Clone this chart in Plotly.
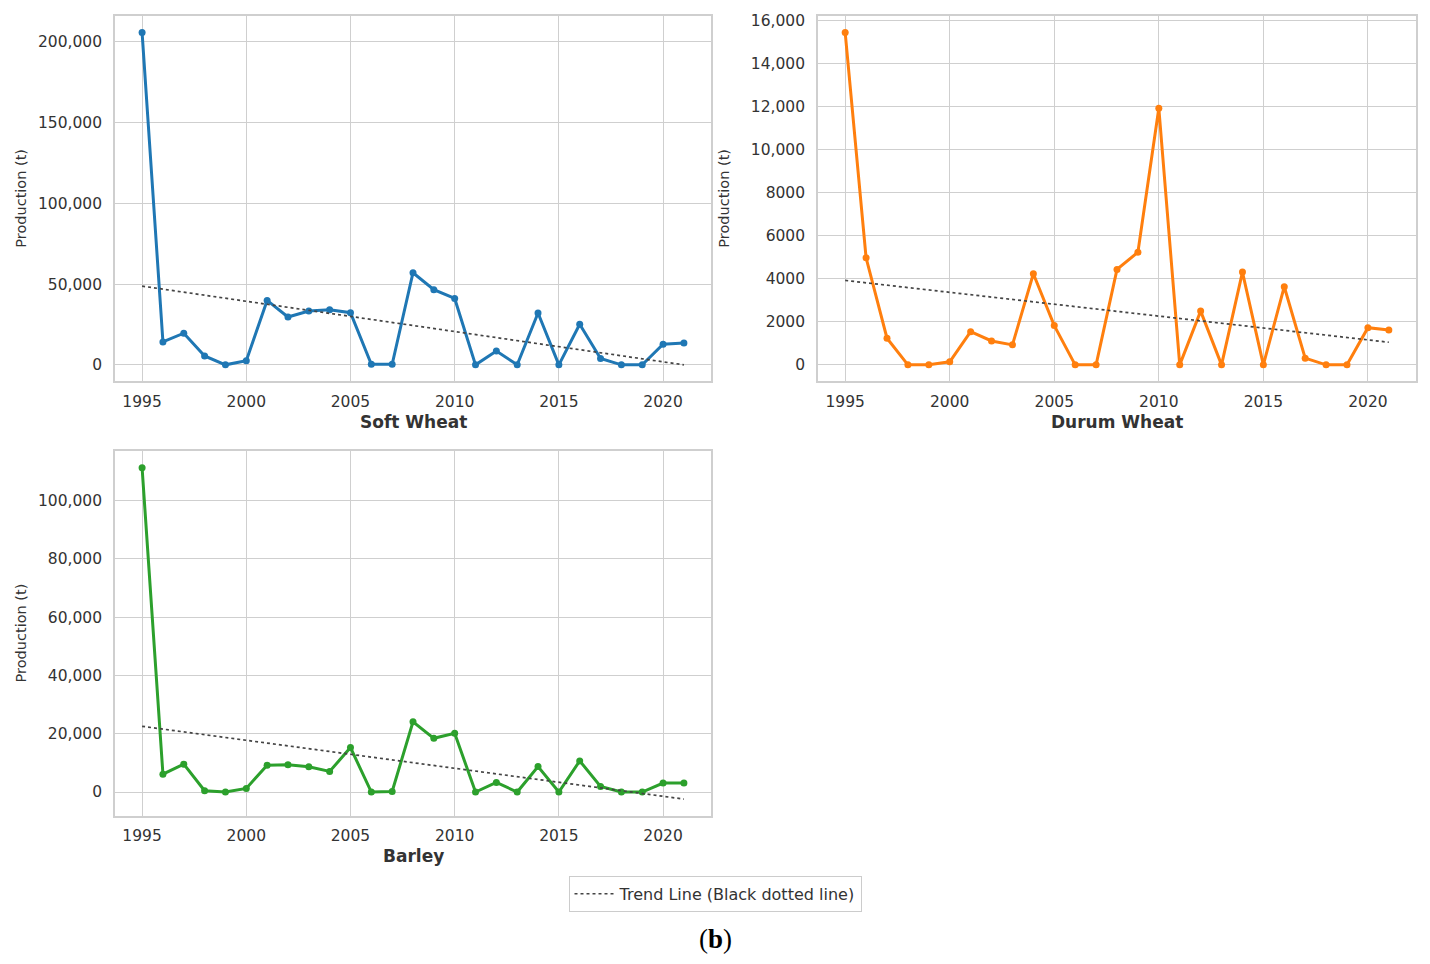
import numpy as np
import plotly.graph_objects as go

years = list(range(1995, 2022))

soft_wheat = [205700, 14200, 19600, 5500, 0, 2500, 39900, 29600, 33300, 34100,
              32300, 300, 300, 57000, 46500, 41100, 0, 8600, 0, 32100,
              0, 25100, 3900, 0, 0, 12800, 13600]
durum_wheat = [15460, 4980, 1240, 0, 0, 140, 1545, 1110, 930, 4240,
               1825, 0, 0, 4440, 5240, 11940, 0, 2500, 0, 4315,
               0, 3635, 310, 0, 0, 1730, 1625]
barley = [111270, 6140, 9560, 450, 0, 1250, 9215, 9330, 8650, 7060,
          15250, 0, 200, 24120, 18430, 20140, 0, 3300, 0, 8760,
          0, 10690, 1940, 0, 0, 3070, 3070]

panel_names = ["Soft Wheat", "Durum Wheat", "Barley"]
panel_colors = ["#1f77b4", "#ff7f0e", "#2ca02c"]
x_ticks = [1995, 2000, 2005, 2010, 2015, 2020]
soft_ticks = [0, 50000, 100000, 150000, 200000]
soft_ticktext = ["0", "50,000", "100,000", "150,000", "200,000"]
durum_ticks = [0, 2000, 4000, 6000, 8000, 10000, 12000, 14000, 16000]
durum_ticktext = ["0", "2000", "4000", "6000", "8000", "10,000", "12,000", "14,000", "16,000"]
barley_ticks = [0, 20000, 40000, 60000, 80000, 100000]
barley_ticktext = ["0", "20,000", "40,000", "60,000", "80,000", "100,000"]
y_label = "Production (t)"
legend_label = "Trend Line (Black dotted line)"
caption = "(<b>b</b>)"

W, H = 1430, 964
OX, OY = 8, 10  # page offset compensation


def px_x(v):
    return (v - OX) / W


def px_y(v):
    return 1 - (v - OY) / H


panels = [
    dict(vals=soft_wheat, ticks=soft_ticks, text=soft_ticktext,
         xd=[px_x(115), px_x(711)], yd=[px_y(381), px_y(14)]),
    dict(vals=durum_wheat, ticks=durum_ticks, text=durum_ticktext,
         xd=[px_x(818), px_x(1416)], yd=[px_y(381), px_y(14)]),
    dict(vals=barley, ticks=barley_ticks, text=barley_ticktext,
         xd=[px_x(115), px_x(711)], yd=[px_y(817), px_y(451)]),
]

fig = go.Figure()
layout = {}
annotations = []
text_color = "#333333"
grid_color = "#cfcfcf"
x_arr = np.array(years, dtype=float)

for i, p in enumerate(panels):
    n = "" if i == 0 else str(i + 1)
    xa, ya = "x" + n, "y" + n
    vals = np.array(p["vals"], dtype=float)
    slope, intercept = np.polyfit(x_arr, vals, 1)
    trend = slope * x_arr + intercept
    fig.add_trace(go.Scatter(
        x=years, y=p["vals"], mode="lines+markers", xaxis=xa, yaxis=ya,
        line=dict(color=panel_colors[i], width=3),
        marker=dict(color=panel_colors[i], size=7),
        showlegend=False, name=panel_names[i]))
    fig.add_trace(go.Scatter(
        x=years, y=trend.tolist(), mode="lines", xaxis=xa, yaxis=ya,
        line=dict(color="#444444", width=1.7, dash="dot"),
        showlegend=(i == 0), name=legend_label))
    lo = min(vals.min(), trend.min())
    hi = max(vals.max(), trend.max())
    pad = 0.05 * (hi - lo)
    axis_common = dict(showgrid=True, gridcolor=grid_color, gridwidth=1.4,
                       showline=True, linecolor=grid_color, linewidth=1.6, mirror=True,
                       zeroline=False, ticks="",
                       tickfont=dict(family="DejaVu Sans", size=15.5, color=text_color))
    layout["xaxis" + n] = dict(domain=p["xd"], anchor=ya, range=[1993.7, 2022.3],
                               tickvals=x_ticks, ticktext=[str(t) for t in x_ticks],
                               ticklabelstandoff=5, **axis_common)
    layout["yaxis" + n] = dict(domain=p["yd"], anchor=xa, range=[lo - pad, hi + pad],
                               tickvals=p["ticks"], ticktext=p["text"],
                               ticklabelstandoff=8, **axis_common)
    xc = (p["xd"][0] + p["xd"][1]) / 2
    annotations.append(dict(text="<b>" + panel_names[i] + "</b>", xref="paper", yref="paper",
                            x=xc, y=p["yd"][0] - 41 / H, xanchor="center", yanchor="middle",
                            showarrow=False,
                            font=dict(family="DejaVu Sans", size=17, color=text_color)))
    yc = (p["yd"][0] + p["yd"][1]) / 2
    annotations.append(dict(text=y_label, xref="paper", yref="paper",
                            x=p["xd"][0] - 94 / W, y=yc, xanchor="center", yanchor="middle",
                            textangle=-90, showarrow=False,
                            font=dict(family="DejaVu Sans", size=14.5, color=text_color)))

annotations.append(dict(text=caption, xref="paper", yref="paper", x=px_x(715), y=px_y(941),
                        xanchor="center", yanchor="middle", showarrow=False,
                        font=dict(family="Liberation Serif", size=27, color="#000000")))

fig.update_layout(
    width=W, height=H,
    margin=dict(l=0, r=0, t=0, b=0),
    paper_bgcolor="white", plot_bgcolor="white",
    showlegend=True,
    legend=dict(x=px_x(715), y=px_y(895.5), xanchor="center", yanchor="middle",
                bordercolor="#cccccc", borderwidth=1, bgcolor="white",
                font=dict(family="DejaVu Sans", size=16, color=text_color),
                itemwidth=40, tracegroupgap=0),
    annotations=annotations,
    **layout,
)

fig.write_html("out.html")
